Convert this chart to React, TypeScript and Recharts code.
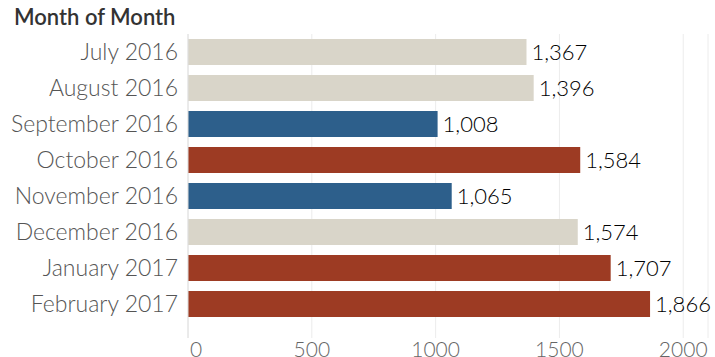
import React from "react";
import { BarChart, Bar, XAxis, YAxis, CartesianGrid, Cell, LabelList } from "recharts";

const months = [
  "July 2016",
  "August 2016",
  "September 2016",
  "October 2016",
  "November 2016",
  "December 2016",
  "January 2017",
  "February 2017",
];
const values = [1367, 1396, 1008, 1584, 1065, 1574, 1707, 1866];
const barColors = ["#d9d5c9", "#d9d5c9", "#2d5f8b", "#9d3b23", "#2d5f8b", "#d9d5c9", "#9d3b23", "#9d3b23"];
const xTicks = [0, 500, 1000, 1500, 2000];

const data = months.map((m, i) => ({ month: m, value: values[i], color: barColors[i] }));

const FONT = "Lato, 'Open Sans', sans-serif";

const XTick = (props: any) => {
  const { x, y, payload } = props;
  const isZero = payload.value === 0;
  return (
    <text
      x={isZero ? x + 2 : x}
      y={y}
      dy="0.71em"
      textAnchor={isZero ? "start" : "middle"}
      fontFamily={FONT}
      fontSize={21}
      fontWeight={300}
      fill="#666"
    >
      {payload.value}
    </text>
  );
};

export default function App() {
  return (
    <div style={{ position: "absolute", left: 0, top: 0, width: 715, height: 357, overflow: "hidden", background: "#fff" }}>
      <div
        style={{
          position: "absolute",
          left: 14,
          top: 4,
          fontFamily: FONT,
          fontSize: 22,
          fontWeight: 600,
          color: "#333",
          lineHeight: "26px",
        }}
      >
        Month of Month
      </div>
      <BarChart
        width={715}
        height={357}
        data={data}
        layout="vertical"
        margin={{ top: 34, right: 7, bottom: 0, left: 0 }}
        barCategoryGap={10}
      >
        <CartesianGrid horizontal={false} vertical={true} stroke="#ececec" />
        <XAxis
          type="number"
          domain={[0, 2100]}
          ticks={xTicks}
          axisLine={false}
          tickLine={false}
          tickSize={0}
          tickMargin={4}
          height={19}
          tick={<XTick />}
        />
        <YAxis
          type="category"
          dataKey="month"
          width={188}
          tickLine={false}
          axisLine={{ stroke: "#e0e0e0" }}
          tickMargin={4}
          padding={{ top: 0, bottom: 16 }}
          tick={{ fontFamily: FONT, fontSize: 23, fontWeight: 300, fill: "#555" }}
        />
        <Bar dataKey="value" barSize={26} isAnimationActive={false}>
          {data.map((d, i) => (
            <Cell key={i} fill={d.color} />
          ))}
          <LabelList
            dataKey="value"
            position="right"
            offset={5}
            formatter={(v: number) => v.toLocaleString("en-US")}
            style={{ fontFamily: FONT, fontSize: 22, fontWeight: 300, fill: "#000" }}
          />
        </Bar>
      </BarChart>
    </div>
  );
}
